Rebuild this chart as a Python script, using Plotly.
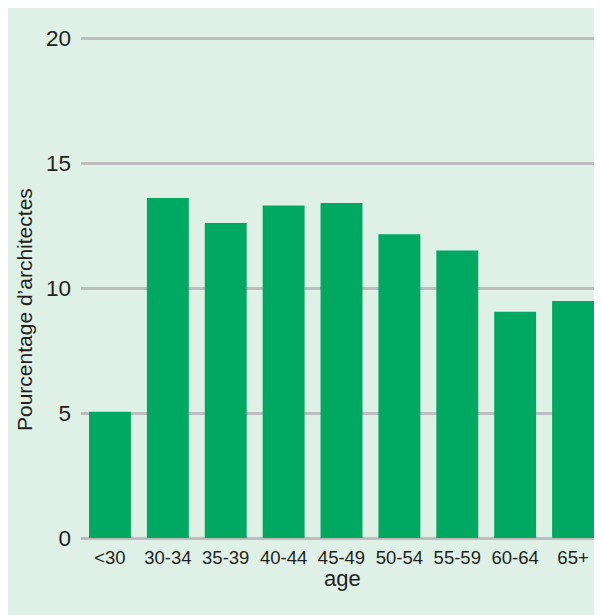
import plotly.graph_objects as go

categories = ["<30", "30-34", "35-39", "40-44", "45-49", "50-54", "55-59", "60-64", "65+"]
values = [5.05, 13.6, 12.6, 13.3, 13.4, 12.15, 11.5, 9.05, 9.48]
y_ticks = [0, 5, 10, 15, 20]

BG = "#dff1e7"
BAR = "#00a862"
GRID = "#bdbdbf"
TXT = "#231f20"

fig = go.Figure()
fig.add_trace(go.Bar(x=categories, y=values, marker=dict(color=BAR, line=dict(width=0))))

W, H = 594, 607
ml, mr, mt, mb = 73, 0, 22, 77
pw, ph = W - ml - mr, H - mt - mb

fig.update_layout(
    width=W, height=H,
    margin=dict(l=ml, r=mr, t=mt, b=mb, pad=0),
    paper_bgcolor=BG,
    plot_bgcolor=BG,
    bargap=0.276,
    showlegend=False,
    font=dict(family="Liberation Sans, Arial, sans-serif", color=TXT),
    annotations=[
        dict(text="Pourcentage d’architectes", textangle=-90, showarrow=False,
             xref="paper", yref="paper", x=(16 - ml) / pw, y=(H - mb - 302) / ph,
             xanchor="center", yanchor="middle", font=dict(size=21, color=TXT)),
        dict(text="age", showarrow=False,
             xref="paper", yref="paper", x=(334 - ml) / pw, y=(H - mb - 570) / ph,
             xanchor="center", yanchor="middle", font=dict(size=22, color=TXT)),
    ],
)
fig.update_xaxes(
    range=[-0.5, 8.5], showgrid=False, showline=False, ticks="",
    tickfont=dict(size=18.5, color=TXT), ticklabelstandoff=6,
    fixedrange=True,
)
fig.update_yaxes(
    range=[0, 20.32], tickvals=y_ticks, showgrid=True, gridcolor=GRID, gridwidth=3,
    zeroline=True, zerolinecolor=GRID, zerolinewidth=3, showline=False, ticks="",
    tickfont=dict(size=22.5, color=TXT), ticklabelstandoff=9,
    fixedrange=True,
)

fig.write_html("out.html")
